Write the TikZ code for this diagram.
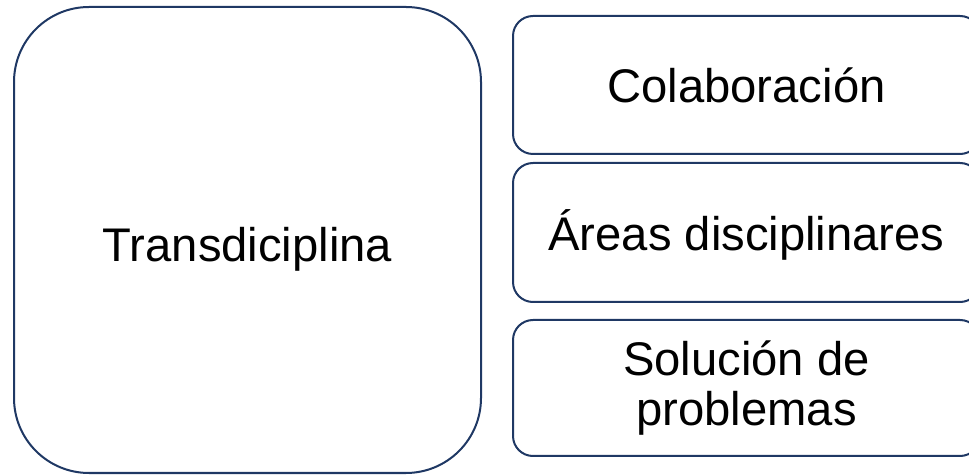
\documentclass[tikz,border=0pt]{standalone}
\usepackage{fontspec}
\setmainfont{Liberation Sans}
\usepackage{tikz}
\usetikzlibrary{positioning}
\definecolor{framenavy}{RGB}{31, 56, 100}

\begin{document}
\begin{tikzpicture}[x=0.5pt, y=-0.5pt,
    bigbox/.style={draw=framenavy, line width=1pt, rounded corners=37.5pt,
        minimum width=233.5pt, minimum height=233pt, align=center,
        text height=22pt, text depth=0pt,
        font=\fontsize{23.6}{25}\selectfont},
    sidebox/.style={draw=framenavy, line width=1pt, rounded corners=10pt,
        minimum width=233.5pt, align=center,
        font=\fontsize{23.6}{25}\selectfont}]
    % Frame of the page
    \useasboundingbox (0, 0) rectangle (969, 475);
    \clip (0, 0) rectangle (969, 475);

    % Main box
    \node[bigbox] (trans) at (247.5, 240) {Transdiciplina};

    % Side boxes
    \node[sidebox, minimum height=69pt, text height=18pt, text depth=0pt] (colab) at (746.5, 85) {Colaboración};
    \node[sidebox, minimum height=69.5pt, text height=18.5pt, text depth=0pt] (areas) at (746.5, 232.5) {Áreas disciplinares};
    \node[sidebox, minimum height=68pt] (solucion) at (746.5, 388) {Solución de\\problemas};
\end{tikzpicture}
\end{document}
